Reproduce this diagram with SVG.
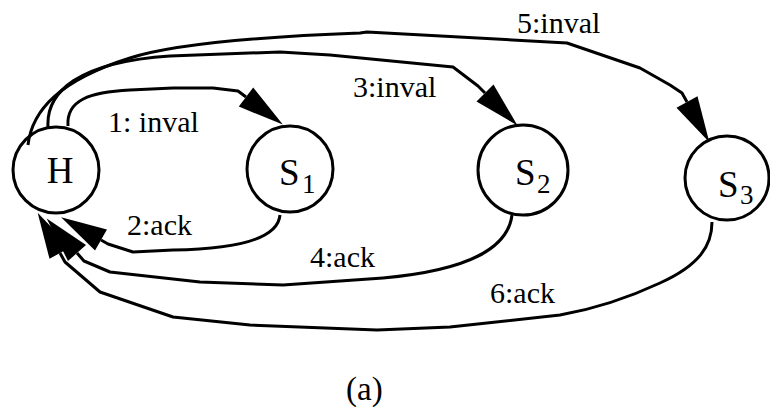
<svg xmlns="http://www.w3.org/2000/svg" width="770" height="410" viewBox="0 0 770 410">
<style>
.edge{fill:none;stroke:#000;stroke-width:3;stroke-linejoin:round;marker-end:url(#ah)}
.node{fill:none;stroke:#000;stroke-width:3}
text{font-family:"Liberation Serif","Times New Roman",serif;fill:#000}
.lbl{font-size:30px}
.nm{font-size:37px}
.sub{font-size:27px}
</style>
<defs>
<marker id="ah" markerUnits="userSpaceOnUse" markerWidth="46" markerHeight="24" refX="0" refY="12" orient="auto" overflow="visible">
<path d="M0,0 L46,12 L0,24 z" fill="#000"/>
</marker>
</defs>
<rect width="770" height="410" fill="#fff"/>
<g id="connectors">
<path id="e1" class="edge" d="M68,126 C66,100 90,92 130,90 L173,88 L213,88 L238,91 L246,97"/>
<path id="e3" class="edge" d="M48,127 C46,92 78,62 170,56 L280,52 L330,55 L453,67 L478,86 L485,93"/>
<path id="e5" class="edge" d="M28,145 C32,110 60,80 130,58 C180,42 280,36 360,33 L367,32 L567,43 L640,68 L670,85 L682,93 L687,102"/>
<path id="e2" class="edge" d="M280,215 C278,238 240,249 173,250 L133,252 L108,244 L101,240"/>
<path id="e4" class="edge" d="M512,215 C508,248 470,270 383,278 L283,285 L200,282 L110,272 L84,261 L77,253"/>
<path id="e6" class="edge" d="M712,222 C712,245 700,265 660,283 C630,297 600,308 560,315 L450,327 L377,330 L250,325 L173,317 L100,292 L65,262 L60,253"/>
<text class="lbl" x="108" y="132">1: inval</text>
<text class="lbl" x="353" y="97">3:inval</text>
<text class="lbl" x="517" y="33">5:inval</text>
<text class="lbl" x="127" y="235">2:ack</text>
<text class="lbl" x="310" y="267">4:ack</text>
<text class="lbl" x="490" y="303">6:ack</text>
</g>
<g id="H">
<circle class="node" cx="56" cy="170" r="43"/>
<text class="nm" x="60" y="183" text-anchor="middle">H</text>
</g>
<g id="S1">
<circle class="node" cx="290" cy="169" r="43"/>
<text class="nm" x="279" y="185">S<tspan class="sub" x="302" y="193">1</tspan></text>
</g>
<g id="S2">
<circle class="node" cx="523" cy="170" r="45"/>
<text class="nm" x="515" y="185">S<tspan class="sub" x="537" y="193">2</tspan></text>
</g>
<g id="S3">
<circle class="node" cx="727" cy="178" r="42"/>
<text class="nm" x="718" y="197">S<tspan class="sub" x="740" y="204">3</tspan></text>
</g>
<text id="caption" x="346" y="400" font-size="33">(a)</text>
</svg>
